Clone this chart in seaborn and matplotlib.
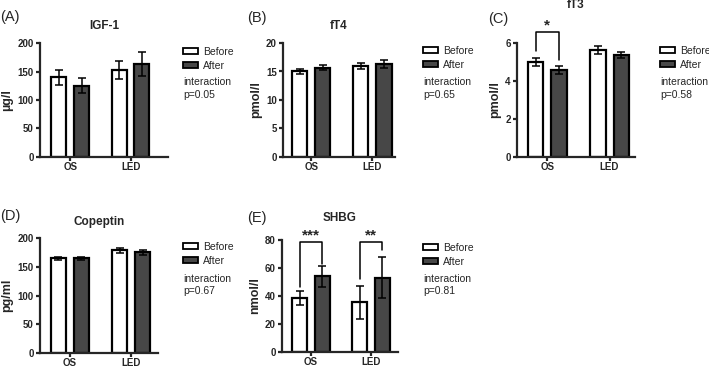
import numpy as np
import pandas as pd
import matplotlib
matplotlib.use("Agg")
import matplotlib.pyplot as plt
import seaborn as sns

# ---------------- data ----------------
groups = ["OS", "LED"]
times = ["Before", "After"]

igf1_before = [140, 153]
igf1_after = [125, 163]
igf1_err_before = [13, 16]
igf1_err_after = [13, 21]

ft4_before = [15.0, 16.0]
ft4_after = [15.7, 16.35]
ft4_err_before = [0.5, 0.5]
ft4_err_after = [0.5, 0.65]

ft3_before = [4.99, 5.65]
ft3_after = [4.57, 5.36]
ft3_err_before = [0.22, 0.21]
ft3_err_after = [0.20, 0.16]

copeptin_before = [164.5, 178.5]
copeptin_after = [164.5, 175.6]
copeptin_err_before = [2.5, 4.0]
copeptin_err_after = [2.5, 4.3]

shbg_before = [38.5, 35.6]
shbg_after = [54.1, 53.2]
shbg_err_before = [5.2, 11.9]
shbg_err_after = [7.5, 14.5]

titles = ["IGF-1", "fT4", "fT3", "Copeptin", "SHBG"]
ylabels = ["µg/l", "pmol/l", "pmol/l", "pg/ml", "nmol/l"]
panel_tags = ["(A)", "(B)", "(C)", "(D)", "(E)"]
interaction_p = ["p=0.05", "p=0.65", "p=0.58", "p=0.67", "p=0.81"]
yticks_list = [[0, 50, 100, 150, 200], [0, 5, 10, 15, 20], [0, 2, 4, 6],
               [0, 50, 100, 150, 200], [0, 20, 40, 60, 80]]

# significance brackets: (group idx, left leg bottom, right leg bottom, top, label)
ft3_brackets = [(0, 5.56, 5.12, 6.58, "*")]
shbg_brackets = [(0, 46.5, 63.0, 78.3, "***"), (1, 52.0, 73.0, 78.3, "**")]

# ---------------- style ----------------
sns.set_theme(style="ticks")
plt.rcParams["font.family"] = ["Liberation Sans", "DejaVu Sans"]

W, H = 709, 368
fig = plt.figure(figsize=(W / 100, H / 100), dpi=100)

# layout in pixels: (left, right, top, bottom), xlim, title pad, tag pos, legend pos, interaction pos
layouts = [
    ((40, 168, 43, 157), (-0.5, 1.62), 10, (0, 17), (183, 47), (183, 88.5)),
    ((283, 395, 43, 157), (-0.46, 1.37), 10, (247, 18), (423, 46), (423, 88.5)),
    ((517, 635, 43, 157), (-0.49, 1.41), 25, (488, 19), (660, 46), (660, 88.5)),
    ((40, 158, 238, 353), (-0.49, 1.44), 9, (0, 216), (183, 242), (183, 285)),
    ((282, 398, 240, 352), (-0.48, 1.45), 14, (247, 218), (423, 243), (423, 285)),
]

datasets = [
    (igf1_before, igf1_after, igf1_err_before, igf1_err_after, []),
    (ft4_before, ft4_after, ft4_err_before, ft4_err_after, []),
    (ft3_before, ft3_after, ft3_err_before, ft3_err_after, ft3_brackets),
    (copeptin_before, copeptin_after, copeptin_err_before, copeptin_err_after, []),
    (shbg_before, shbg_after, shbg_err_before, shbg_err_after, shbg_brackets),
]

dark = "#474747"
LW = 1.6

for i, ((before, after, eb, ea, brackets), lay) in enumerate(zip(datasets, layouts)):
    (l, r, t, b), xlim, tpad, tagpos, legpos, intpos = lay
    ax = fig.add_axes([l / W, 1 - b / H, (r - l) / W, (b - t) / H])
    df = pd.DataFrame({
        "group": groups * 2,
        "time": [times[0]] * 2 + [times[1]] * 2,
        "value": list(before) + list(after),
    })
    sns.barplot(data=df, x="group", y="value", hue="time", order=groups,
                hue_order=times, palette=["white", dark], edgecolor="black",
                linewidth=LW, width=0.754, gap=0.34, saturation=1,
                errorbar=None, ax=ax, zorder=2)
    conts = list(ax.containers)[:2]
    centers = {}
    for ci, (cont, errs) in enumerate(zip(conts, [eb, ea])):
        for bi, (bar, e) in enumerate(zip(cont, errs)):
            x = bar.get_x() + bar.get_width() / 2
            y = bar.get_height()
            centers[(ci, bi)] = x
            ax.errorbar(x, y, yerr=e, color="black", capsize=3.0,
                        elinewidth=1.1, capthick=1.1, zorder=3)
    for (gi, ylo_l, ylo_r, ytop, lab) in brackets:
        x0 = centers[(0, gi)]
        x1 = centers[(1, gi)]
        ax.plot([x0, x0, x1, x1], [ylo_l, ytop, ytop, ylo_r], color="black",
                lw=1.1, clip_on=False, zorder=4)
        ax.text((x0 + x1) / 2, ytop, lab, ha="center", va="bottom",
                fontsize=11, fontweight="bold")

    ax.set_xlim(*xlim)
    yt = yticks_list[i]
    ax.set_ylim(yt[0], yt[-1])
    ax.set_yticks(yt)
    ax.set_yticklabels([str(v) for v in yt])
    ax.set_xlabel("")
    ax.set_ylabel(ylabels[i], fontsize=9, fontweight="bold", labelpad=3)
    ax.set_title(titles[i], fontsize=8.5, fontweight="bold", pad=tpad)
    for s in ["top", "right"]:
        ax.spines[s].set_visible(False)
    for s in ["left", "bottom"]:
        ax.spines[s].set_linewidth(LW)
    ax.tick_params(axis="both", width=LW, length=3, pad=1.5, labelsize=7)
    ax.tick_params(axis="x", pad=0.8)
    for lab in ax.get_xticklabels() + ax.get_yticklabels():
        lab.set_fontweight("bold")

    handles, labels = ax.get_legend_handles_labels()
    leg = ax.legend(handles[:2], labels[:2], loc="upper left",
                    bbox_to_anchor=(legpos[0] / W, 1 - legpos[1] / H),
                    bbox_transform=fig.transFigure, frameon=False,
                    fontsize=7.5, handlelength=1.4, handleheight=0.55,
                    handletextpad=0.5, labelspacing=0.35, borderpad=0,
                    borderaxespad=0)
    for hdl in leg.legend_handles:
        hdl.set_edgecolor("black")
        hdl.set_linewidth(1.3)
    fig.text(intpos[0] / W, 1 - intpos[1] / H, "interaction\n" + interaction_p[i],
             fontsize=7.5, va="center", ha="left", linespacing=1.3)
    fig.text(tagpos[0] / W, 1 - tagpos[1] / H, panel_tags[i], fontsize=10.5,
             va="center", ha="left")

fig.savefig("out.png", dpi=100)
